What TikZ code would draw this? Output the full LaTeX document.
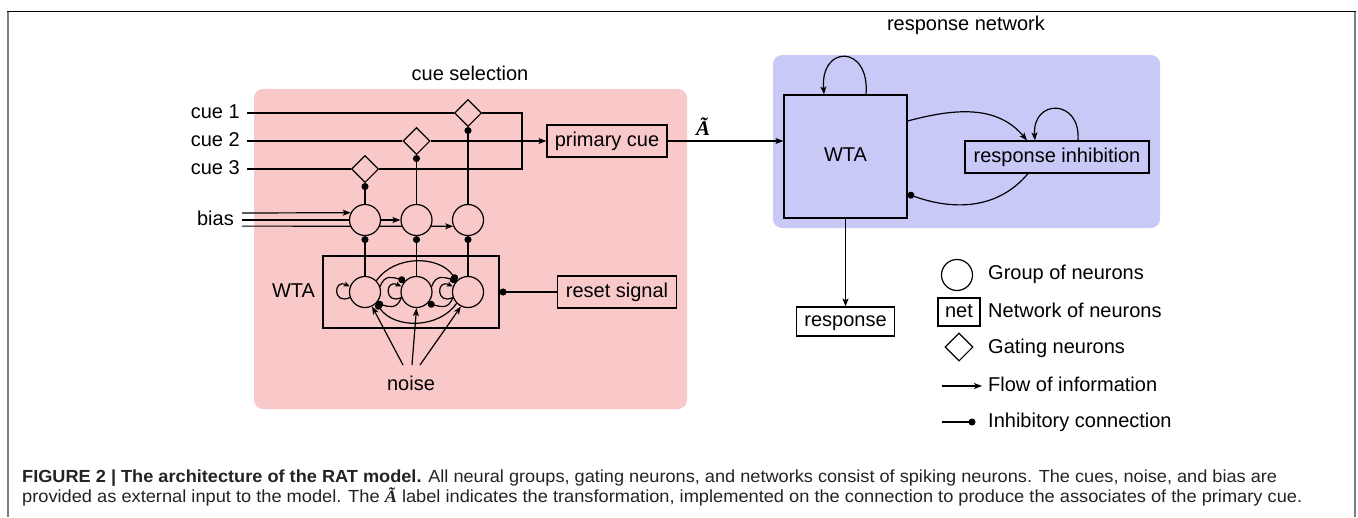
\documentclass[tikz,border=0pt]{standalone}
\usepackage{graphicx}
\usepackage{fontspec}
\setmainfont{Liberation Sans}
\newfontfamily\serifbi{Liberation Serif}
\newcommand{\Atil}{{\serifbi\bfseries\itshape Ã}}
\usetikzlibrary{arrows.meta,shapes.geometric}
\definecolor{pinkbg}{RGB}{249,201,201}
\definecolor{bluebg}{RGB}{201,201,248}
\definecolor{framegray}{RGB}{125,125,125}
\definecolor{captext}{RGB}{35,35,35}
\pgfdeclarelayer{bg}
\pgfdeclarelayer{edges}
\pgfsetlayers{bg,edges,main}
\tikzset{
  lbl/.style={font=\fontsize{20}{24}\selectfont, inner sep=0pt, text height=14.5pt, text depth=4.5pt},
  grp/.style={circle, draw, line width=1.2pt, minimum size=31pt, inner sep=0pt},
  gate/.style={diamond, draw, line width=1.1pt, minimum width=27pt, minimum height=27pt, inner sep=0pt},
  netbox/.style={draw, rectangle, line width=1.2pt, inner sep=0pt, font=\fontsize{20}{24}\selectfont, text height=14.5pt, text depth=4.5pt},
  con/.style={line width=1.2pt},
  flow/.style={con, -{Stealth[length=8pt,width=6pt,inset=2pt]}},
  flowsm/.style={con, -{Stealth[length=6pt,width=5pt,inset=1.5pt]}},
  inh/.style={con, -{Circle[length=7pt]}},
  capline/.style={font=\fontsize{17.5}{20}\selectfont, text=captext, inner sep=0pt, anchor=base west},
}
\begin{document}
\begin{tikzpicture}[x=1pt,y=1pt]
\useasboundingbox (0,0) rectangle (1358,-517);

% frame
\draw[black, line width=1.2pt] (6.5,-11.5) -- (1356,-11.5);
\draw[framegray, line width=2pt] (7.5,-11.5) -- (7.5,-517);
\draw[framegray, line width=2pt] (1355.3,-11.5) -- (1355.3,-517);

% backgrounds
\begin{pgfonlayer}{bg}
\fill[pinkbg, rounded corners=9pt] (254,-89) rectangle (687,-409);
\fill[bluebg, rounded corners=9pt] (773,-55) rectangle (1160,-228);
\end{pgfonlayer}

% ---------- cue selection ----------
\node[lbl] (cuesel) at (470,-75) {cue selection};
\node[lbl, anchor=east] (cue1) at (240,-113) {cue 1};
\node[lbl, anchor=east] (cue2) at (240,-141) {cue 2};
\node[lbl, anchor=east] (cue3) at (240,-169) {cue 3};
\node[lbl, anchor=east] (bias) at (234,-220) {bias};

\node[gate, fill=pinkbg] (g1) at (468,-113) {};
\node[gate, fill=pinkbg] (g2) at (416.5,-141) {};
\node[gate, fill=pinkbg] (g3) at (365,-169) {};

\node[grp, fill=pinkbg] (c1) at (365,-220) {};
\node[grp, fill=pinkbg] (c2) at (416.5,-220) {};
\node[grp, fill=pinkbg] (c3) at (468,-220) {};

\node[grp, fill=pinkbg] (w1) at (365,-292) {};
\node[grp, fill=pinkbg] (w2) at (416.5,-292) {};
\node[grp, fill=pinkbg] (w3) at (468,-292) {};

\node[netbox, minimum width=176pt, minimum height=72pt] (wta1) at (411,-292) {};
\node[lbl] (wtalbl) at (293.5,-292) {WTA};
\node[netbox, minimum width=119pt, minimum height=32pt] (reset) at (617,-292) {reset signal};
\node[netbox, minimum width=120pt, minimum height=32pt] (primary) at (607,-141) {primary cue};
\node[lbl] (noise) at (411,-385) {noise};

\coordinate (j1) at (522,-113);
\coordinate (j3) at (522,-169);
\coordinate (b1) at (242,-213);
\coordinate (b2) at (242,-220);
\coordinate (b3) at (242,-226.1);
\coordinate (n1) at (403,-365);
\coordinate (n2) at (412,-365);
\coordinate (n3) at (420,-365);

% ---------- response network ----------
\node[lbl] (respnet) at (966,-25) {response network};
\node[netbox, minimum width=123pt, minimum height=123pt] (rwta) at (845.5,-156.5) {WTA};
\node[netbox, minimum width=184pt, minimum height=32pt] (ri) at (1057,-157) {response inhibition};
\node[netbox, minimum width=98pt, minimum height=29pt] (resp) at (845.5,-321.5) {response};
\node[font=\fontsize{21}{24}\selectfont, inner sep=0pt] (atil) at (703,-127) {\Atil};

% ---------- legend ----------
\node[grp] (lc) at (957,-275) {};
\node[netbox, minimum width=42pt, minimum height=28pt] (lnet) at (959,-312) {net};
\node[gate, minimum width=28pt, minimum height=28pt] (lg) at (959,-347) {};
\coordinate (la1) at (942,-386);
\coordinate (la2) at (982,-386);
\coordinate (li1) at (942,-422);
\coordinate (li2) at (975.5,-422);
\node[lbl, anchor=west] (t1) at (988,-274) {Group of neurons};
\node[lbl, anchor=west] (t2) at (988,-312) {Network of neurons};
\node[lbl, anchor=west] (t3) at (988,-348) {Gating neurons};
\node[lbl, anchor=west] (t4) at (988,-386) {Flow of information};
\node[lbl, anchor=west] (t5) at (988,-422) {Inhibitory connection};

% ---------- caption ----------
\node[capline] (cap1) at (22,-482.5) {\resizebox{1255pt}{\height}{\textbf{FIGURE 2 | The architecture of the RAT model.} All neural groups, gating neurons, and networks consist of spiking neurons. The cues, noise, and bias are}};
\node[capline] (cap2) at (22,-502) {\resizebox{1280pt}{\height}{provided as external input to the model. The \Atil{} label indicates the transformation, implemented on the connection to produce the associates of the primary cue.}};

% ---------- connectors ----------
\begin{pgfonlayer}{edges}
% cues
\draw[con] ([xshift=7pt]cue1.east) -- (g1.west);
\draw[con] ([xshift=7pt]cue2.east) -- (g2.west);
\draw[con] ([xshift=7pt]cue3.east) -- (g3.west);
\draw[con] (g1.east) -- (j1) -- (j3) -- (g3.east);
\draw[flow] (g2.east) -- (primary.west);
% inhibition of gates
\draw[inh] (c1.north) -- (g3.south);
\draw[inh] (c2.north) -- (g2.south);
\draw[inh] (c3.north) -- (g1.south);
% WTA inhibits bias groups
\draw[inh] (w1.north) -- (c1.south);
\draw[inh] (w2.north) -- (c2.south);
\draw[inh] (w3.north) -- (c3.south);
% bias
\draw[flow] (b1) -- (c1.153);
\draw[flow] (b2) -- (c2.west);
\draw[flow] (b3) -- (c3.203);
% WTA self loops
\draw[flowsm] (w1.200) .. controls +(-17,-8) and +(-17,8) .. (w1.160);
\draw[flowsm] (w2.200) .. controls +(-17,-8) and +(-17,8) .. (w2.160);
\draw[flowsm] (w3.200) .. controls +(-17,-8) and +(-17,8) .. (w3.160);
% mutual inhibition
\draw[inh] (w1.20) to[out=70,in=165,looseness=1.3] (w2.135);
\draw[inh] (w2.20) to[out=70,in=165,looseness=1.3] (w3.135);
\draw[inh] (w1.45) to[out=55,in=125] (w3.135);
\draw[inh] (w2.200) to[out=250,in=-15,looseness=1.3] (w1.-45);
\draw[inh] (w3.200) to[out=250,in=-15,looseness=1.3] (w2.-45);
\draw[inh] (w3.225) to[out=235,in=305] (w1.-45);
% noise
\draw[flow] (n1) -- (w1.-64);
\draw[flow] (n2) -- (w2.south);
\draw[flow] (n3) -- (w3.-116);
% reset
\draw[inh] (reset.west) -- (wta1.east);
% to response network
\draw[flow] (primary.east) -- (primary.east -| rwta.west);
\draw[flow] ([xshift=20.5pt]rwta.north) .. controls +(4,50) and +(-4,50) .. ([xshift=-21.5pt]rwta.north);
\draw[flow] ([xshift=21pt]ri.north) .. controls +(3,42) and +(-3,42) .. ([xshift=-22pt]ri.north);
\draw[flow] ([yshift=35.5pt]rwta.east) to[out=15,in=130] ([xshift=-30pt]ri.north);
\draw[inh] ([xshift=-29pt]ri.south) to[out=-130,in=-20] ([yshift=-37.5pt]rwta.east);
\draw[flow] (rwta.south) -- (resp.north);
% legend
\draw[flow] (la1) -- (la2);
\draw[inh] (li1) -- (li2);
\end{pgfonlayer}
\end{tikzpicture}
\end{document}
